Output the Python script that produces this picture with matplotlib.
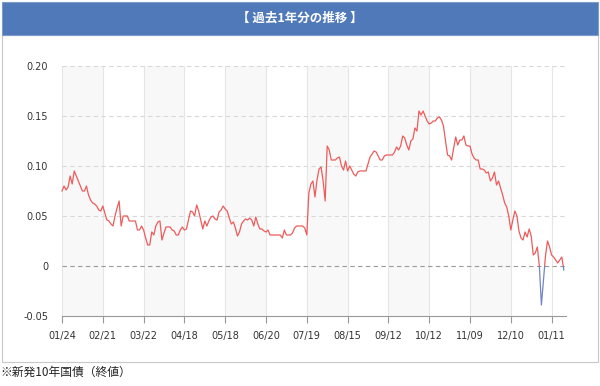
import matplotlib
matplotlib.use("Agg")
import matplotlib.pyplot as plt
from matplotlib.patches import Rectangle
import numpy as np

plt.rcParams['font.family'] = ['DejaVu Sans', 'Noto Sans CJK JP']

title = "【 過去1年分の推移 】"
footnote = "※新発10年国債（終値）"
tick_labels = ["01/24", "02/21", "03/22", "04/18", "05/18", "06/20", "07/19",
               "08/15", "09/12", "10/12", "11/09", "12/10", "01/11"]
tick_step = 20
y_ticks = [-0.05, 0.0, 0.05, 0.10, 0.15, 0.20]
y_tick_labels = ["-0.05", "0", "0.05", "0.10", "0.15", "0.20"]

yields = [
    0.075, 0.080, 0.076, 0.079, 0.090, 0.082, 0.095, 0.090, 0.085, 0.080,
    0.075, 0.075, 0.080, 0.071, 0.066, 0.063, 0.062, 0.060, 0.056, 0.055,
    0.060, 0.053, 0.046, 0.045, 0.042, 0.040, 0.050, 0.058, 0.065, 0.040,
    0.050, 0.050, 0.050, 0.045, 0.045, 0.045, 0.045, 0.036, 0.036, 0.040,
    0.036, 0.028, 0.021, 0.021, 0.034, 0.031, 0.040, 0.044, 0.045, 0.026,
    0.033, 0.039, 0.039, 0.039, 0.036, 0.035, 0.031, 0.031, 0.036, 0.039,
    0.036, 0.037, 0.046, 0.055, 0.054, 0.050, 0.061, 0.055, 0.046, 0.037,
    0.045, 0.040, 0.045, 0.049, 0.050, 0.047, 0.046, 0.054, 0.056, 0.060,
    0.057, 0.055, 0.048, 0.042, 0.044, 0.038, 0.030, 0.034, 0.042, 0.045,
    0.047, 0.046, 0.048, 0.046, 0.040, 0.049, 0.042, 0.037, 0.037, 0.035,
    0.034, 0.036, 0.031, 0.031, 0.031, 0.031, 0.031, 0.031, 0.028, 0.036,
    0.031, 0.031, 0.031, 0.033, 0.038, 0.040, 0.040, 0.040, 0.040, 0.038,
    0.031, 0.073, 0.082, 0.085, 0.069, 0.086, 0.097, 0.099, 0.085, 0.065,
    0.120, 0.116, 0.106, 0.106, 0.106, 0.108, 0.109, 0.100, 0.096, 0.105,
    0.095, 0.100, 0.096, 0.092, 0.090, 0.094, 0.095, 0.095, 0.095, 0.095,
    0.102, 0.109, 0.112, 0.115, 0.114, 0.110, 0.106, 0.106, 0.110, 0.111,
    0.111, 0.111, 0.111, 0.114, 0.119, 0.116, 0.120, 0.130, 0.128, 0.121,
    0.116, 0.125, 0.127, 0.138, 0.135, 0.155, 0.151, 0.155, 0.150, 0.145,
    0.142, 0.143, 0.145, 0.145, 0.148, 0.149, 0.146, 0.140, 0.125, 0.111,
    0.110, 0.106, 0.118, 0.129, 0.121, 0.126, 0.126, 0.130, 0.121, 0.120,
    0.120, 0.112, 0.108, 0.106, 0.106, 0.097, 0.097, 0.096, 0.093, 0.094,
    0.085, 0.088, 0.094, 0.081, 0.085, 0.078, 0.071, 0.063, 0.059, 0.050,
    0.036, 0.046, 0.055, 0.050, 0.035, 0.028, 0.026, 0.034, 0.029, 0.037,
    0.030, 0.011, 0.013, 0.019, 0.000, -0.039, -0.015, 0.010, 0.025, 0.019,
    0.011, 0.009, 0.006, 0.003, 0.006, 0.009, -0.004,
]

W, H = 600, 386
fig = plt.figure(figsize=(W / 100, H / 100), dpi=100)

def fx(px):
    return px / W

def fy(py):
    return 1 - py / H

# outer box and title bar
fig.patches.append(Rectangle((fx(2), fy(362)), fx(596), 327 / H, transform=fig.transFigure,
                             facecolor="white", edgecolor="#c8c8c8", lw=0.8, zorder=-2))
fig.patches.append(Rectangle((fx(2), fy(35)), fx(596), 33 / H, transform=fig.transFigure,
                             facecolor="#4f79b9", edgecolor="#7d9bcb", lw=0.8, zorder=-1))
fig.text(0.5, fy(18.5), title, color="white", fontsize=9, fontweight="bold",
         ha="center", va="center", family=["Noto Sans CJK JP", "DejaVu Sans"])
fig.text(fx(0), fy(372), footnote, color="#222222", fontsize=8.5,
         ha="left", va="center", family=["Noto Sans CJK JP", "DejaVu Sans"])

left, right, top, bottom = 62, 566, 66, 316
ax = fig.add_axes([fx(left), fy(bottom), fx(right - left), (bottom - top) / H])
ax.set_zorder(5)
ax.set_facecolor("none")

n = len(yields)
x = np.arange(n)
xmax = (right - left) / (40.8 / tick_step)
ax.set_xlim(0, xmax)
ax.set_ylim(-0.05, 0.20)

tick_pos = [i * tick_step for i in range(len(tick_labels))]

# alternating bands (between consecutive ticks only)
for k in range(0, len(tick_pos) - 1, 2):
    ax.axvspan(tick_pos[k], tick_pos[k + 1], color="#f8f8f8", lw=0, zorder=0)
for p in tick_pos:
    ax.axvline(p, color="#e6e6e6", lw=0.8, zorder=1)
for yv in y_ticks:
    if yv == 0:
        ax.axhline(yv, color="#9a9a9a", lw=0.8, ls=(0, (4, 3)), zorder=2)
    elif yv > -0.05:
        ax.axhline(yv, color="#d8d8d8", lw=0.8, ls=(0, (4, 3)), zorder=2)

red_line, = ax.plot(x, yields, color="#ee5b5b", lw=0.9, zorder=3)
blue_line, = ax.plot(x, yields, color="#6f86c8", lw=0.9, zorder=3)
red_line.set_clip_path(Rectangle((-10, 0), 400, 1, transform=ax.transData))
blue_line.set_clip_path(Rectangle((-10, -1), 400, 1, transform=ax.transData))

ax.set_xticks(tick_pos)
ax.set_xticklabels(tick_labels, fontsize=7, color="#333333")
ax.set_yticks(y_ticks)
ax.set_yticklabels(y_tick_labels, fontsize=7, color="#333333")
ax.tick_params(axis="x", length=5, width=0.8, color="#999999", pad=6)
ax.tick_params(axis="y", length=0, pad=10)
for s in ["top", "right", "left"]:
    ax.spines[s].set_visible(False)
ax.spines["bottom"].set_color("#999999")
ax.spines["bottom"].set_linewidth(0.8)

fig.savefig("out.png", dpi=100)
